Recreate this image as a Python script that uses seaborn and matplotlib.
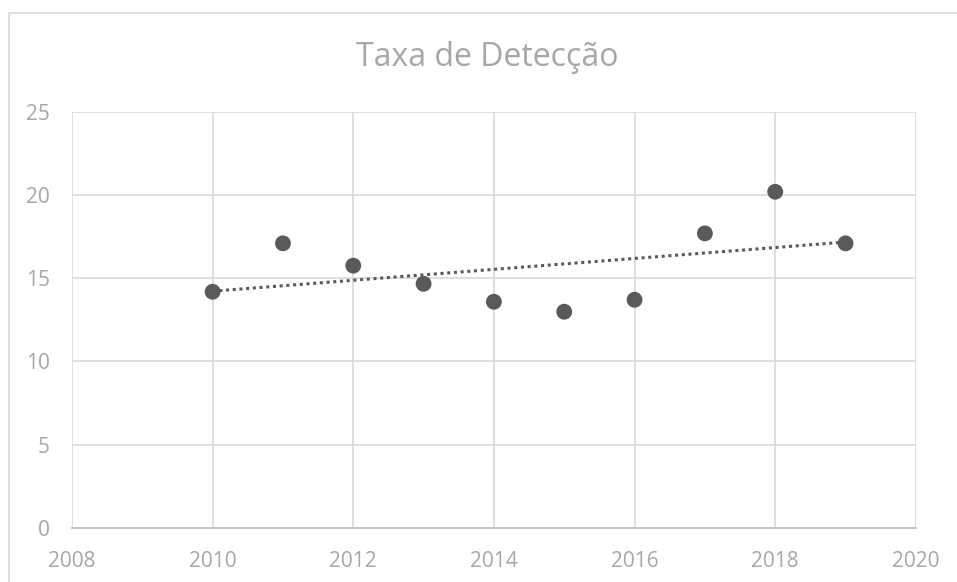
import numpy as np
import pandas as pd
import matplotlib
matplotlib.use('Agg')
import matplotlib.pyplot as plt
import seaborn as sns

# Data
anos = [2010, 2011, 2012, 2013, 2014, 2015, 2016, 2017, 2018, 2019]
taxa = [14.18, 17.09, 15.75, 14.66, 13.58, 12.98, 13.70, 17.69, 20.19, 17.09]
x_ticks = [2008, 2010, 2012, 2014, 2016, 2018, 2020]
y_ticks = [0, 5, 10, 15, 20, 25]

df = pd.DataFrame({'Ano': anos, 'Taxa': taxa})

sns.set_style('white')
plt.rcParams['font.family'] = ['Open Sans', 'DejaVu Sans']

TEXT_GRAY = '#a6a6a6'
GRID_GRAY = '#d9d9d9'
MARK_GRAY = '#595959'

fig = plt.figure(figsize=(9.57, 5.82), dpi=100)
ax = fig.add_axes([0.0752, 0.0933, 0.957 - 0.0752, 0.808 - 0.0933])

# outer chart border (Excel style)
fig.add_artist(plt.Rectangle((9 / 957, -0.1), 1.2, 1 - 13 / 582 + 0.1,
                             transform=fig.transFigure, fill=False,
                             edgecolor='#d9d9d9', linewidth=1.2))

sns.regplot(data=df, x='Ano', y='Taxa', ax=ax, ci=None,
            scatter_kws={'s': 130, 'color': MARK_GRAY, 'alpha': 1,
                         'edgecolor': 'none', 'zorder': 3},
            line_kws={'color': MARK_GRAY, 'linestyle': (0, (1, 1.2)),
                      'linewidth': 2.2, 'zorder': 2})

ax.set_xlim(2008, 2020)
ax.set_ylim(0, 25)
ax.set_xticks(x_ticks)
ax.set_yticks(y_ticks)
ax.grid(True, color=GRID_GRAY, linewidth=1.2)
ax.set_axisbelow(True)
for side in ['top', 'right', 'left']:
    ax.spines[side].set_visible(False)
ax.spines['bottom'].set_color('#bfbfbf')
ax.spines['bottom'].set_linewidth(1.3)
ax.tick_params(axis='both', length=0, labelsize=15, labelcolor=TEXT_GRAY)
ax.tick_params(axis='x', pad=17)
ax.tick_params(axis='y', pad=16)
ax.set_xlabel('')
ax.set_ylabel('')

fig.text(487 / 957, 1 - 57 / 582, 'Taxa de Detecção', ha='center', va='center',
         fontsize=23, color=TEXT_GRAY)

fig.savefig('out.png', dpi=100)
